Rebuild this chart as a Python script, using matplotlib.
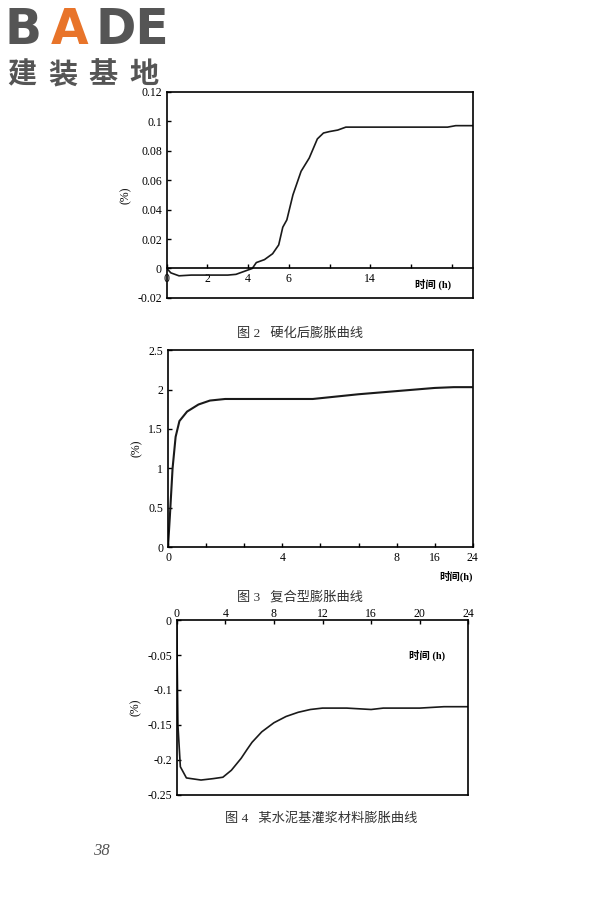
import matplotlib
matplotlib.use("Agg")
import matplotlib.pyplot as plt

plt.rcParams['font.family'] = ['Liberation Serif', 'Noto Sans CJK SC']

# Figure 2 (x in tick-index units; tick labels non-linear)
f2_x = [0, 0.1, 0.3, 0.6, 1.0, 1.5, 1.7, 1.9, 2.1, 2.2, 2.4, 2.6, 2.75, 2.85, 2.95, 3.1, 3.3, 3.5, 3.7, 3.85, 4.0, 4.2, 4.4, 5.0, 6.0, 6.9, 7.1, 7.52]
f2_y = [0, -0.003, -0.005, -0.0045, -0.0045, -0.0045, -0.004, -0.002, 0, 0.004, 0.006, 0.010, 0.016, 0.028, 0.033, 0.050, 0.066, 0.075, 0.088, 0.092, 0.093, 0.094, 0.096, 0.096, 0.096, 0.096, 0.097, 0.097]
f2_ticks = ['0', '2', '4', '6', '', '14', '', '']
f2_yticks = [-0.02, 0, 0.02, 0.04, 0.06, 0.08, 0.1, 0.12]
f2_ylabels = ['-0.02', '0', '0.02', '0.04', '0.06', '0.08', '0.1', '0.12']

# Figure 3
f3_x = [0, 0.05, 0.12, 0.2, 0.3, 0.5, 0.8, 1.1, 1.5, 2.0, 3.0, 3.8, 4.2, 5.0, 6.0, 7.0, 7.5, 7.97]
f3_y = [0, 0.4, 1.0, 1.4, 1.6, 1.72, 1.81, 1.86, 1.88, 1.88, 1.88, 1.88, 1.90, 1.94, 1.98, 2.02, 2.03, 2.03]
f3_ticks = ['0', '', '', '4', '', '', '8', '16', '24']
f3_yticks = [0, 0.5, 1, 1.5, 2, 2.5]
f3_ylabels = ['0', '0.5', '1', '1.5', '2', '2.5']

# Figure 4
f4_x = [0, 0.1, 0.3, 0.8, 2, 3, 3.8, 4.5, 5.3, 5.8, 6.2, 7, 8, 9, 10, 11, 12, 14, 16, 17, 20, 22, 24]
f4_y = [0, -0.15, -0.21, -0.226, -0.229, -0.227, -0.225, -0.215, -0.198, -0.185, -0.175, -0.16, -0.147, -0.138, -0.132, -0.128, -0.126, -0.126, -0.128, -0.126, -0.126, -0.124, -0.124]
f4_ticks = [0, 4, 8, 12, 16, 20, 24]
f4_yticks = [-0.25, -0.2, -0.15, -0.1, -0.05, 0]
f4_ylabels = ['-0.25', '-0.2', '-0.15', '-0.1', '-0.05', '0']

fig = plt.figure(figsize=(6, 9), dpi=100)
lc = '#1a1a1a'
fs = 8.5

# Chart 1
ax1 = fig.add_axes([0.278, 0.669, 0.51, 0.229])
ax1.plot(f2_x, f2_y, color=lc, lw=1.2)
ax1.set_xlim(0, 7.52); ax1.set_ylim(-0.02, 0.12)
ax1.spines['bottom'].set_position(('data', 0))
ax1.axhline(-0.02, color='k', lw=1.2, clip_on=False)
ax1.set_xticks(range(8)); ax1.set_xticklabels(f2_ticks, fontsize=fs)
ax1.set_yticks(f2_yticks); ax1.set_yticklabels(f2_ylabels, fontsize=fs)
ax1.text(0.81, 0.065, '时间 (h)', fontsize=7.5, fontweight='bold', transform=ax1.transAxes, ha='left', va='center')
ax1.set_ylabel('(%)', fontsize=fs)

# Chart 2
ax2 = fig.add_axes([0.28, 0.392, 0.508, 0.219])
ax2.plot(f3_x, f3_y, color=lc, lw=1.5)
ax2.set_xlim(0, 7.97); ax2.set_ylim(0, 2.5)
ax2.set_xticks(range(9)); ax2.set_xticklabels(f3_ticks, fontsize=fs)
ax2.set_yticks(f3_yticks); ax2.set_yticklabels(f3_ylabels, fontsize=fs)
ax2.text(1.0, -0.12, '时间(h)', fontsize=7.5, fontweight='bold', transform=ax2.transAxes, ha='right', va='top')
ax2.set_ylabel('(%)', fontsize=fs)

# Chart 3
ax3 = fig.add_axes([0.2945, 0.117, 0.486, 0.194])
ax3.plot(f4_x, f4_y, color=lc, lw=1.2)
ax3.set_xlim(0, 24); ax3.set_ylim(-0.25, 0)
ax3.xaxis.tick_top()
ax3.set_xticks(f4_ticks); ax3.set_xticklabels([str(t) for t in f4_ticks], fontsize=fs)
ax3.tick_params(axis='x', pad=0)
ax3.set_yticks(f4_yticks); ax3.set_yticklabels(f4_ylabels, fontsize=fs)
ax3.text(0.92, 0.83, '时间 (h)', fontsize=7.5, fontweight='bold', transform=ax3.transAxes, ha='right', va='top')
ax3.set_ylabel('(%)', fontsize=fs)

for ax in (ax1, ax2, ax3):
    for s in ax.spines.values():
        s.set_linewidth(1.2)
    ax.tick_params(direction='in', length=3, width=1)

# Captions
fig.text(0.5, 1 - 333 / 900, '图 2   硬化后膨胀曲线', ha='center', va='center', fontsize=9.5, color='#333333')
fig.text(0.5, 1 - 597 / 900, '图 3   复合型膨胀曲线', ha='center', va='center', fontsize=9.5, color='#333333')
fig.text(0.535, 1 - 818 / 900, '图 4   某水泥基灌浆材料膨胀曲线', ha='center', va='center', fontsize=9.5, color='#333333')
fig.text(0.155, 1 - 851 / 900, '38', fontsize=12, style='italic', color='#555555', va='center')

# Logo
fig.text(0.008, 1 - 30 / 900, 'B', fontsize=35, fontweight='bold', family='DejaVu Sans', color='#555555', va='center')
fig.text(0.085, 1 - 30 / 900, 'A', fontsize=35, fontweight='bold', family='DejaVu Sans', color='#e8742a', va='center')
fig.text(0.16, 1 - 30 / 900, 'DE', fontsize=35, fontweight='bold', family='DejaVu Sans', color='#555555', va='center')
for i, ch in enumerate('建装基地'):
    fig.text(0.012 + i * 0.068, 1 - 74 / 900, ch, fontsize=21, fontweight='bold', family='Noto Sans CJK SC', color='#555555', va='center')

fig.savefig('out.png', dpi=100)
